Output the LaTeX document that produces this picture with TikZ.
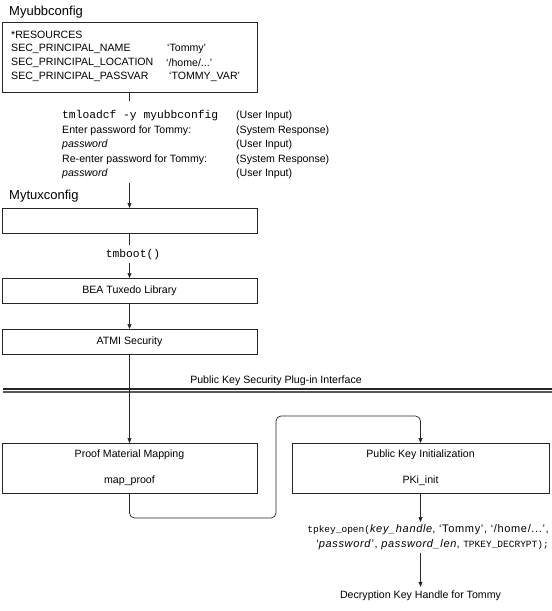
\documentclass[tikz,border=0pt]{standalone}
\usepackage{fontspec}
\setmainfont{Liberation Sans}
\setmonofont{Liberation Mono}
\usetikzlibrary{arrows.meta}
\newcommand{\bodyfont}{\fontsize{10.6}{12}\selectfont}
\newcommand{\titlefont}{\fontsize{13}{15}\selectfont}
\newcommand{\codefont}{\fontsize{11.3}{12}\selectfont\ttfamily}
\newcommand{\smcodefont}{\fontsize{9.5}{11}\selectfont\ttfamily}
\newcommand{\widefont}{\fontsize{11}{12}\selectfont\addfontfeature{LetterSpace=6}}
\begin{document}
\begin{tikzpicture}[x=1pt,y=-1pt,
  box/.style={draw=black!85, line width=1pt, rectangle, inner sep=0pt, outer sep=0pt, anchor=north west, font=\bodyfont},
  lbl/.style={font=\bodyfont, inner sep=0pt},
  lft/.style={lbl, anchor=west},
  ttl/.style={font=\titlefont, inner sep=0pt, anchor=west},
  conn/.style={draw=black!85, line width=0.7pt},
  arr/.style={conn, -{Triangle[length=5pt,width=4pt]}},
  bartop/.style={line width=1.8pt, draw=black!85},
  barbot/.style={line width=1.8pt, draw=black!65}]
\useasboundingbox (0,0) rectangle (552,611);
% Myubbconfig
\node[ttl] (t1) at (9,12) {Myubbconfig};
\node[box, minimum width=255pt, minimum height=70pt] (ubb) at (2,22) {};
\node[lft] (r1) at (11,35) {*RESOURCES};
\node[lft] (r2) at (11,49) {SEC\_PRINCIPAL\_NAME};
\node[lft] (r3) at (11,63) {SEC\_PRINCIPAL\_LOCATION};
\node[lft] (r4) at (11,77) {SEC\_PRINCIPAL\_PASSVAR};
\node[lft] (v2) at (167,49) {‘Tommy’};
\node[lft] (v3) at (166,63) {‘/home/...’};
\node[lft] (v4) at (169,77) {‘TOMMY\_VAR’};
% command block
\node[lft] (k1) at (62,116) {\codefont tmloadcf -y myubbconfig};
\node[lft] (k2) at (62,130.5) {Enter password for Tommy:};
\node[lft] (k3) at (62,145) {\itshape password};
\node[lft] (k4) at (62,159.5) {Re-enter password for Tommy:};
\node[lft] (k5) at (62,174) {\itshape password};
\node[lft] (u1) at (236,116) {(User Input)};
\node[lft] (u2) at (236,130.5) {(System Response)};
\node[lft] (u3) at (236,145) {(User Input)};
\node[lft] (u4) at (236,159.5) {(System Response)};
\node[lft] (u5) at (236,174) {(User Input)};
\coordinate (c1) at (129.5,101);
\coordinate (c2) at (129.5,183);
\draw[conn] (ubb.south) -- (c1);
% Mytuxconfig
\node[ttl] (t2) at (9,196) {Mytuxconfig};
\node[box, minimum width=255pt, minimum height=25pt] (tux) at (2,208) {};
\draw[arr] (c2) -- (tux.north);
\node[font=\codefont, inner sep=0pt] (boot) at (133,255) {tmboot()};
\coordinate (c3) at (129.5,245);
\coordinate (c4) at (129.5,263);
\draw[conn] (tux.south) -- (c3);
\node[box, minimum width=255pt, minimum height=25pt] (bea) at (2,278) {BEA Tuxedo Library};
\draw[arr] (c4) -- (bea.north);
\node[box, minimum width=255pt, minimum height=25pt] (atmi) at (2,329) {ATMI Security};
\draw[arr] (bea.south) -- (atmi.north);
% plug-in interface
\node[lbl] (plug) at (276,380.5) {Public Key Security Plug-in Interface};
\coordinate (b1l) at (3,389.3); \coordinate (b1r) at (552,389.3);
\coordinate (b2l) at (3,392.3); \coordinate (b2r) at (552,392.3);
\draw[barbot] (b2l) -- (b2r);
\draw[bartop] (b1l) -- (b1r);
% lower boxes
\node[box, minimum width=255pt, minimum height=50pt] (proof) at (2,443) {};
\node[lbl] (proof1) at (129.5,455) {Proof Material Mapping};
\node[lbl] (proof2) at (129.5,481) {map\_proof};
\draw[arr] (atmi.south) -- (proof.north);
\node[box, minimum width=257pt, minimum height=50pt] (pki) at (292,443) {};
\node[lbl] (pki1) at (420.5,455) {Public Key Initialization};
\node[lbl] (pki2) at (420.5,481) {PKi\_init};
\coordinate (lb) at (276,518);
\coordinate (lt) at (276,416);
\draw[arr, rounded corners=5pt] (proof.south) |- (lb) -- (lt) -| (pki.north);
% tpkey_open
\node[lbl, anchor=east] (tp1) at (549,530) {{\smcodefont tpkey\_open(}{\widefont\textit{key\_handle}, ‘Tommy’, ‘/home/...’,}};
\node[lbl, anchor=east] (tp2) at (549,545) {{\widefont‘\textit{password}’, \textit{password\_len}, }{\smcodefont TPKEY\_DECRYPT);}};
\coordinate (c5) at (420.5,522);
\draw[arr] (pki.south) -- (c5);
\coordinate (c6) at (420.5,553);
\node[lbl, inner sep=4pt] (dec) at (420.5,596) {Decryption Key Handle for Tommy};
\draw[arr] (c6) -- (dec.north);
\end{tikzpicture}
\end{document}
